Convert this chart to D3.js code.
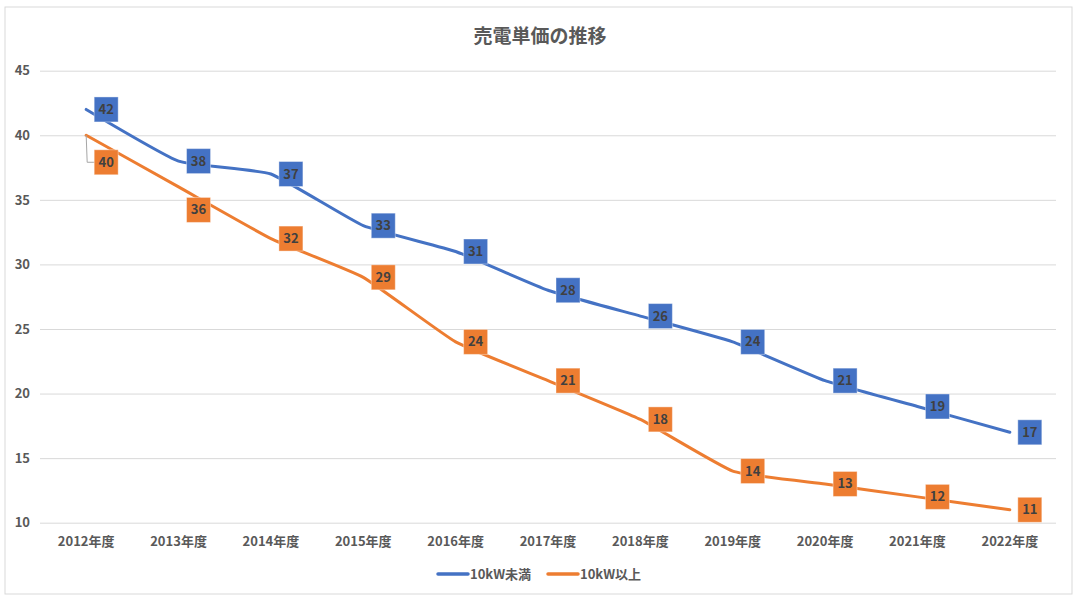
<!DOCTYPE html>
<html><head><meta charset="utf-8">
<script src="https://cdn.jsdelivr.net/npm/d3@7"></script>
<style>
html,body{margin:0;padding:0;background:#fff;}
svg text{font-family:"Noto Sans CJK JP","Noto Sans",sans-serif;}
</style></head>
<body>
<svg id="chart" width="1080" height="601"></svg>
<script>
const title = "売電単価の推移";
const categories = ["2012年度","2013年度","2014年度","2015年度","2016年度","2017年度","2018年度","2019年度","2020年度","2021年度","2022年度"];
const seriesNames = ["10kW未満","10kW以上"];
const under10kW = [42,38,37,33,31,28,26,24,21,19,17];
const over10kW = [40,36,32,29,24,21,18,14,13,12,11];
const yTicks = [10,15,20,25,30,35,40,45];

const colors = ["#4472C4","#ED7D31"];
// manual label nudges (px) for overlapping labels, per series
const labelDy = [[0,0,0,0,0,0,0,0,0,0,0],[27,23,0,0,0,0,0,0,0,0,0]];

const svg = d3.select("#chart");
svg.append("rect").attr("x",5).attr("y",7).attr("width",1067).attr("height",587)
  .attr("fill","#fff").attr("stroke","#D9D9D9").attr("stroke-width",1);

const x = d3.scaleBand().domain(categories).range([40,1056]);
const y = d3.scaleLinear().domain([10,45]).range([522.7,70.7]);

svg.append("text").attr("x",540).attr("y",43).attr("text-anchor","middle")
  .attr("font-size",19).attr("font-weight","bold").attr("fill","#595959").text(title);

// grid
const yAxis = d3.axisLeft(y).tickValues(yTicks).tickSize(-1016).tickPadding(10);
const gy = svg.append("g").attr("transform","translate(40,0)").call(yAxis);
gy.select(".domain").remove();
gy.selectAll(".tick line").attr("stroke","#D9D9D9").attr("stroke-width",1);
gy.selectAll(".tick text").attr("font-size",13).attr("font-weight","bold").attr("fill","#595959").attr("x",-10);

const xAxis = d3.axisBottom(x).tickSize(0).tickPadding(14);
const gx = svg.append("g").attr("transform","translate(0,522.7)").call(xAxis);
gx.select(".domain").remove();
gx.selectAll(".tick text").attr("font-size",13).attr("font-weight","bold").attr("fill","#595959");

const cx = c => x(c) + x.bandwidth()/2;
const line = d3.line().x((d,i)=>cx(categories[i])).y(d=>y(d)).curve(d3.curveCardinal.tension(0.6));

const allSeries = [under10kW, over10kW];
allSeries.forEach((s,k)=>{
  svg.append("path").datum(s).attr("d",line).attr("fill","none")
    .attr("stroke",colors[k]).attr("stroke-width",3).attr("stroke-linecap","round");
});

// leader line for the label moved furthest from its point
allSeries.forEach((s,k)=>{
  s.forEach((v,i)=>{
    const dy = labelDy[k][i];
    if(dy>25){
      const px = cx(categories[i]), py = y(v);
      svg.append("path").attr("d",`M${px},${py}L${px+1},${py+dy}L${px+9},${py+dy}`)
        .attr("fill","none").attr("stroke","#A6A6A6").attr("stroke-width",1);
    }
  });
});

allSeries.forEach((s,k)=>{
  const g = svg.append("g");
  s.forEach((v,i)=>{
    const px = cx(categories[i]) + 20, py = y(v) + labelDy[k][i];
    g.append("rect").attr("x",px-12).attr("y",py-12.5).attr("width",24).attr("height",25)
      .attr("fill",colors[k]).attr("stroke","#fff").attr("stroke-opacity",0.4).attr("stroke-width",1);
    g.append("text").attr("x",px).attr("y",py+4.5).attr("text-anchor","middle")
      .attr("font-size",13).attr("font-weight","bold").attr("fill","#404040").text(v);
  });
});

// legend
const legendX = [438,548];
seriesNames.forEach((n,k)=>{
  svg.append("line").attr("x1",legendX[k]).attr("x2",legendX[k]+30).attr("y1",574).attr("y2",574)
    .attr("stroke",colors[k]).attr("stroke-width",3.5).attr("stroke-linecap","round");
  svg.append("text").attr("x",legendX[k]+32).attr("y",578.5).attr("font-size",13)
    .attr("font-weight","bold").attr("fill","#595959").text(n);
});
</script>
</body></html>
